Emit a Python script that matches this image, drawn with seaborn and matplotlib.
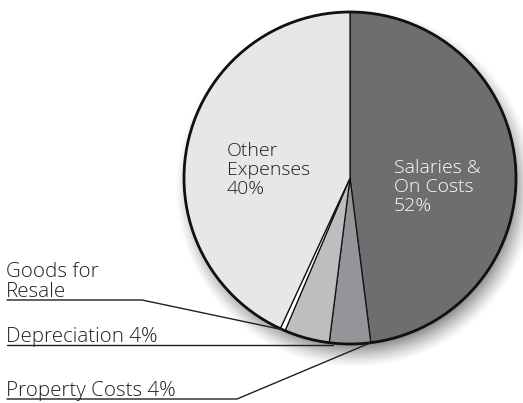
import numpy as np
import matplotlib
matplotlib.use("Agg")
import matplotlib.pyplot as plt
import seaborn as sns

# Data (slice sizes as drawn, clockwise from 12 o'clock)
categories = ["Salaries & On Costs", "Property Costs", "Depreciation", "Goods for Resale", "Other Expenses"]
values = [48.0, 4.0, 4.4, 0.5, 43.1]
inner_labels = {"Salaries & On Costs": "Salaries &\nOn Costs\n52%",
                "Other Expenses": "Other\nExpenses\n40%"}
outer_labels = {"Goods for Resale": "Goods for\nResale",
                "Depreciation": "Depreciation 4%",
                "Property Costs": "Property Costs 4%"}
colors = ["#6d6e70", "#939598", "#bcbec0", "#ffffff", "#e6e7e8"]

sns.set_theme(style="white")
plt.rcParams['font.family'] = ['Open Sans', 'DejaVu Sans']

W, H = 523, 403
fig = plt.figure(figsize=(W / 100, H / 100), dpi=100)
ax = fig.add_axes([0, 0, 1, 1])

def Y(ypx):
    return H - ypx

cx, cy, R = 350, 178, 166

# soft drop shadow
xx, yy = np.meshgrid(np.arange(W) + 0.5, np.arange(H) + 0.5)
d = np.hypot(xx - (cx + 5), yy - (cy + 10))
a = np.clip((R + 14 - d) / 26, 0, 1) ** 1.3 * 0.5
img = np.zeros((H, W, 4))
img[..., 3] = a
ax.imshow(img, extent=(0, W, 0, H), origin="upper", zorder=0, interpolation="bilinear")

wedges, _ = ax.pie(values, colors=colors, startangle=90, counterclock=False,
                   center=(cx, Y(cy)), radius=R,
                   wedgeprops=dict(edgecolor="#111111", linewidth=0.9))
for w in wedges:
    w.set_zorder(2)
ax.add_patch(plt.Circle((cx, Y(cy)), R, fill=False, edgecolor="#111111", linewidth=2.0, zorder=3))

ax.set_xlim(0, W)
ax.set_ylim(0, H)
ax.set_aspect("equal")
ax.axis("off")

fs = 14
ax.text(394, Y(159), inner_labels["Salaries & On Costs"], color="white", fontsize=fs,
        fontweight="light", va="top", ha="left", linespacing=1.08, zorder=5)
ax.text(227, Y(142), inner_labels["Other Expenses"], color="#231f20", fontsize=fs,
        fontweight="light", va="top", ha="left", linespacing=1.08, zorder=5)

fs2 = 14.8
ax.text(6, Y(297), outer_labels["Goods for Resale"], color="#231f20", fontsize=fs2,
        fontweight="light", va="baseline", ha="left", linespacing=1.02, zorder=5)
ax.text(6, Y(342), outer_labels["Depreciation"], color="#231f20", fontsize=fs2,
        fontweight="light", va="baseline", ha="left", zorder=5)
ax.text(6, Y(396), outer_labels["Property Costs"], color="#231f20", fontsize=fs2,
        fontweight="light", va="baseline", ha="left", zorder=5)

lw = 1.0
ax.plot([7, 142, 284], [Y(300), Y(300), Y(330)], color="#231f20", lw=lw, zorder=4)
ax.plot([7, 333], [Y(345), Y(345)], color="#231f20", lw=lw, zorder=4)
ax.plot([7, 237, 370], [Y(399), Y(399), Y(343)], color="#231f20", lw=lw, zorder=4)

fig.savefig("out.png", dpi=100)
